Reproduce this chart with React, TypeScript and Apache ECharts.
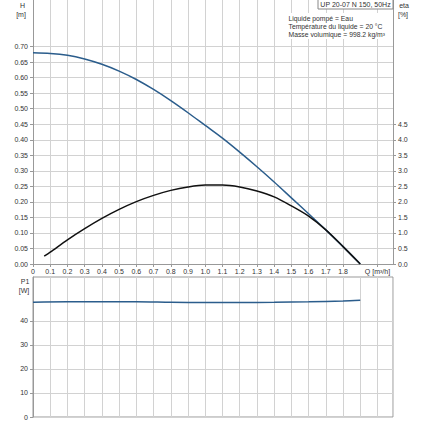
import React, { useEffect, useRef } from "react";
import * as echarts from "echarts";

// Head curve H [m] vs Q [m³/h]
const headQ = [0, 0.1, 0.2, 0.3, 0.4, 0.5, 0.6, 0.7, 0.8, 0.9, 1.0, 1.1, 1.2, 1.3, 1.4, 1.5, 1.6, 1.7, 1.8, 1.9];
const headH = [0.68, 0.678, 0.672, 0.66, 0.643, 0.621, 0.594, 0.562, 0.526, 0.487, 0.446, 0.405, 0.36, 0.313, 0.264, 0.213, 0.162, 0.11, 0.056, 0.0];

// Efficiency eta [%] vs Q
const etaQ = [0.065, 0.1, 0.2, 0.3, 0.4, 0.5, 0.6, 0.7, 0.8, 0.9, 1.0, 1.1, 1.2, 1.3, 1.4, 1.5, 1.6, 1.7, 1.8, 1.9];
const etaV = [0.25, 0.38, 0.78, 1.14, 1.47, 1.76, 2.01, 2.21, 2.37, 2.48, 2.54, 2.54, 2.48, 2.35, 2.16, 1.87, 1.54, 1.1, 0.56, 0.0];

// Power P1 [W] vs Q
const powerQ = [0, 0.2, 0.4, 0.6, 0.8, 1.0, 1.2, 1.4, 1.6, 1.8, 1.9];
const powerP1 = [47.8, 48.0, 48.0, 48.0, 47.8, 47.7, 47.7, 47.8, 48.0, 48.3, 48.6];

// Tick labels
const qTicks = [0, 0.1, 0.2, 0.3, 0.4, 0.5, 0.6, 0.7, 0.8, 0.9, 1.0, 1.1, 1.2, 1.3, 1.4, 1.5, 1.6, 1.7, 1.8, 2.0];
const hTicks = [0, 0.05, 0.1, 0.15, 0.2, 0.25, 0.3, 0.35, 0.4, 0.45, 0.5, 0.55, 0.6, 0.65, 0.7];
const etaTicks = [0, 0.5, 1.0, 1.5, 2.0, 2.5, 3.0, 3.5, 4.0, 4.5];
const pTicks = [0, 10, 20, 30, 40];

const infoLines = ["Liquide pompé = Eau", "Température du liquide = 20 °C", "Masse volumique = 998.2 kg/m³"];
const titleText = "UP 20-07 N 150, 50Hz";

const FONT = "'Liberation Sans', Arial, sans-serif";
const GRID = "#d2d2d2";
const AXIS = "#999999";
const TXT = "#333333";
const BLUE = "#2b5d8c";

export default function App() {
  const ref = useRef<HTMLDivElement>(null);
  useEffect(() => {
    if (!ref.current) return;
    const chart = echarts.init(ref.current, undefined, { renderer: "svg" });
    const lbl = { color: TXT, fontSize: 7, fontFamily: FONT };
    const option: any = {
      animation: false,
      backgroundColor: "#ffffff",
      grid: [
        { left: 33, top: 0, width: 360, height: 264, containLabel: false },
        { left: 33, top: 277, width: 360, height: 140, show: true, borderColor: AXIS, borderWidth: 1, backgroundColor: "transparent" },
      ],
      xAxis: [
        {
          type: "value", gridIndex: 0, min: 0, max: 2.09, interval: 0.1,
          axisLine: { show: true, onZero: false, lineStyle: { color: AXIS } },
          axisTick: { show: true, length: 3, lineStyle: { color: AXIS }, customValues: qTicks },
          axisLabel: {
            ...lbl, margin: 4, customValues: qTicks, showMinLabel: true, showMaxLabel: true,
            formatter: (v: number) => (Math.abs(v - 2.0) < 1e-6 ? "Q [m³/h]" : v === 0 ? "0" : v.toFixed(1)),
          },
          splitLine: { show: true, lineStyle: { color: GRID } },
        },
        {
          type: "value", gridIndex: 1, min: 0, max: 2.09, interval: 0.1,
          axisLine: { show: false }, axisTick: { show: false }, axisLabel: { show: false },
          splitLine: { show: true, lineStyle: { color: GRID } },
        },
      ],
      yAxis: [
        {
          type: "value", gridIndex: 0, min: 0, max: 0.85, interval: 0.05,
          axisLine: { show: true, onZero: false, lineStyle: { color: AXIS } },
          axisTick: { show: true, length: 3, lineStyle: { color: AXIS }, customValues: hTicks },
          axisLabel: { ...lbl, margin: 5, customValues: hTicks, formatter: (v: number) => v.toFixed(2) },
          splitLine: { show: true, lineStyle: { color: GRID } },
        },
        {
          type: "value", gridIndex: 0, position: "right", min: 0, max: 8.5, interval: 0.5,
          axisLine: { show: true, onZero: false, lineStyle: { color: AXIS } },
          axisTick: { show: true, length: 3, lineStyle: { color: AXIS }, customValues: etaTicks },
          axisLabel: { ...lbl, margin: 5, customValues: etaTicks, formatter: (v: number) => v.toFixed(1) },
          splitLine: { show: false },
        },
        {
          type: "value", gridIndex: 1, min: 0, max: 58.3, interval: 10,
          axisLine: { show: true, onZero: false, lineStyle: { color: AXIS } },
          axisTick: { show: true, length: 3, lineStyle: { color: AXIS }, customValues: pTicks },
          axisLabel: { ...lbl, margin: 5, customValues: pTicks, formatter: (v: number) => String(v) },
          splitLine: { show: true, lineStyle: { color: GRID } },
        },
      ],
      series: [
        {
          name: "H", type: "line", xAxisIndex: 0, yAxisIndex: 0, smooth: 0.3, showSymbol: false,
          lineStyle: { color: BLUE, width: 1.5 }, data: headQ.map((q, i) => [q, headH[i]]),
        },
        {
          name: "eta", type: "line", xAxisIndex: 0, yAxisIndex: 1, smooth: 0.3, showSymbol: false,
          lineStyle: { color: "#111111", width: 1.5 }, data: etaQ.map((q, i) => [q, etaV[i]]),
        },
        {
          name: "P1", type: "line", xAxisIndex: 1, yAxisIndex: 2, smooth: 0.3, showSymbol: false,
          lineStyle: { color: BLUE, width: 1.5 }, data: powerQ.map((q, i) => [q, powerP1[i]]),
        },
      ],
      graphic: [
        { type: "text", x: 22.5, y: 5, style: { text: "H", fill: TXT, font: `7px ${FONT}`, align: "center", verticalAlign: "middle" } },
        { type: "text", x: 21, y: 14, style: { text: "[m]", fill: TXT, font: `7px ${FONT}`, align: "center", verticalAlign: "middle" } },
        { type: "text", x: 404, y: 5, style: { text: "eta", fill: TXT, font: `7px ${FONT}`, align: "center", verticalAlign: "middle" } },
        { type: "text", x: 403, y: 14, style: { text: "[%]", fill: TXT, font: `7px ${FONT}`, align: "center", verticalAlign: "middle" } },
        { type: "text", x: 25, y: 281, style: { text: "P1", fill: TXT, font: `7px ${FONT}`, align: "center", verticalAlign: "middle" } },
        { type: "text", x: 24, y: 290, style: { text: "[W]", fill: TXT, font: `7px ${FONT}`, align: "center", verticalAlign: "middle" } },
        {
          type: "rect", shape: { x: 318, y: -1, width: 75, height: 10 },
          style: { fill: "#ffffff", stroke: "#888888", lineWidth: 1 }, z: 10,
        },
        {
          type: "text", x: 355.5, y: 4.5, z: 11,
          style: { text: titleText, fill: TXT, font: `7px ${FONT}`, align: "center", verticalAlign: "middle" },
        },
        {
          type: "rect", shape: { x: 287, y: 13, width: 104, height: 26 },
          style: { fill: "#ffffff" }, z: 10,
        },
        ...infoLines.map((t, i) => ({
          type: "text", x: 288.5, y: 18.3 + i * 8.2, z: 11,
          style: { text: t, fill: TXT, font: `6.8px ${FONT}`, align: "left", verticalAlign: "middle" },
        })),
      ],
    };
    chart.setOption(option);
    return () => chart.dispose();
  }, []);
  return <div ref={ref} style={{ position: "fixed", left: 0, top: 0, width: 423, height: 423 }} />;
}
